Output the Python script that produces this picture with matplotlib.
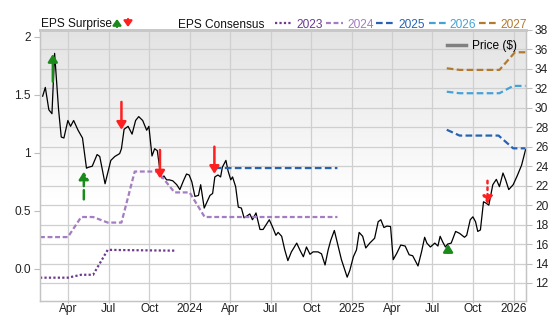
import matplotlib
matplotlib.use('Agg')
import matplotlib.pyplot as plt
import matplotlib.dates as mdates
from matplotlib.lines import Line2D
from matplotlib.ticker import FixedLocator, FixedFormatter, FuncFormatter
import numpy as np
import pandas as pd

plt.rcParams['font.family'] = ['Liberation Sans', 'DejaVu Sans']

# ---------------- data ----------------
price_dates = [
    "2023-02-02", "2023-02-08", "2023-02-16", "2023-02-23", "2023-03-01", "2023-03-10",
    "2023-03-16", "2023-03-22", "2023-03-31", "2023-04-06", "2023-04-13", "2023-04-23",
    "2023-05-03", "2023-05-12", "2023-05-17", "2023-05-25", "2023-06-05", "2023-06-11",
    "2023-06-17", "2023-06-23", "2023-07-06", "2023-07-15", "2023-07-26", "2023-07-30",
    "2023-08-05", "2023-08-14", "2023-08-23", "2023-08-31", "2023-09-07", "2023-09-16",
    "2023-09-25", "2023-09-30", "2023-10-07", "2023-10-13", "2023-10-19", "2023-10-25",
    "2023-10-29", "2023-11-03", "2023-11-09", "2023-11-15", "2023-11-23", "2023-12-02",
    "2023-12-09", "2023-12-17", "2023-12-24", "2023-12-30", "2024-01-05", "2024-01-12",
    "2024-01-20", "2024-01-25", "2024-02-02", "2024-02-09", "2024-02-15", "2024-02-21",
    "2024-02-26", "2024-03-04", "2024-03-10", "2024-03-14", "2024-03-22", "2024-03-27",
    "2024-04-02", "2024-04-06", "2024-04-13", "2024-04-19", "2024-04-26", "2024-05-02",
    "2024-05-09", "2024-05-15", "2024-05-21", "2024-05-29", "2024-06-07", "2024-06-14",
    "2024-06-28", "2024-07-05", "2024-07-13", "2024-07-18", "2024-07-26", "2024-08-02",
    "2024-08-09", "2024-08-17", "2024-08-29", "2024-09-05", "2024-09-13", "2024-09-20",
    "2024-09-28", "2024-10-05", "2024-10-16", "2024-10-24", "2024-11-01", "2024-11-08",
    "2024-11-14", "2024-11-22", "2024-11-29", "2024-12-08", "2024-12-21", "2024-12-27",
    "2025-01-04", "2025-01-11", "2025-01-17", "2025-01-25", "2025-02-01", "2025-02-10",
    "2025-02-21", "2025-03-01", "2025-03-07", "2025-03-14", "2025-03-21", "2025-03-29",
    "2025-04-04", "2025-04-12", "2025-04-21", "2025-05-01", "2025-05-10", "2025-05-18",
    "2025-05-25", "2025-05-30", "2025-06-07", "2025-06-14", "2025-06-19", "2025-06-27",
    "2025-07-07", "2025-07-14", "2025-07-19", "2025-07-25", "2025-07-31", "2025-08-05",
    "2025-08-13", "2025-08-23", "2025-09-01", "2025-09-12", "2025-09-17", "2025-09-25",
    "2025-10-01", "2025-10-07", "2025-10-12", "2025-10-18", "2025-10-25", "2025-10-31",
    "2025-11-06", "2025-11-15", "2025-11-23", "2025-11-30", "2025-12-08", "2025-12-14",
    "2025-12-21", "2025-12-31", "2026-01-09", "2026-01-19", "2026-01-28",
]
price_values = [
    31.2, 32.1, 29.8, 29.4, 35.6, 29.8,
    27.0, 26.9, 28.7, 28.1, 28.7, 27.7,
    26.9, 23.8, 23.9, 24.0, 25.2, 25.0,
    23.6, 22.2, 24.6, 25.0, 25.3, 25.8,
    27.8, 28.1, 27.3, 28.7, 29.1, 28.7,
    27.7, 28.1, 25.05, 25.8, 25.6, 23.6,
    22.8, 23.0, 22.6, 22.6, 22.5, 22.1,
    21.6, 22.5, 23.2, 23.1, 22.4, 20.9,
    21.0, 22.1, 19.7, 20.4, 21.0, 21.2,
    22.9, 23.1, 22.9, 23.9, 24.6, 23.5,
    22.6, 22.9, 21.9, 19.8, 19.7, 18.7,
    18.9, 19.1, 18.5, 19.2, 17.5, 17.5,
    18.5, 17.8, 16.9, 17.2, 16.8, 15.4,
    14.3, 15.2, 16.1, 15.4, 14.7, 15.7,
    14.95, 15.2, 15.2, 15.0, 13.85, 15.4,
    16.4, 17.4, 16.1, 14.4, 12.6, 13.3,
    14.7, 15.4, 17.2, 16.8, 15.6, 16.1,
    16.6, 18.3, 18.5, 17.7, 17.85, 17.8,
    14.4, 15.05, 15.9, 15.8, 14.9, 14.8,
    14.2, 13.75, 15.2, 16.7, 16.1, 15.7,
    16.1, 15.8, 16.8, 16.2, 15.7, 16.0,
    16.1, 17.3, 17.1, 16.7, 16.9, 18.5,
    18.8, 18.3, 17.3, 17.45, 20.35, 20.2,
    20.0, 22.1, 22.65, 21.9, 23.3, 22.6,
    21.6, 22.1, 23.0, 24.1, 25.7,
]

eps_2023_dates = ["2023-01-27", "2023-03-31", "2023-04-30", "2023-05-27", "2023-06-29",
                  "2023-07-30", "2023-11-27"]
eps_2023_values = [-0.075, -0.075, -0.05, -0.05, 0.165, 0.163, 0.158]

eps_2024_dates = ["2023-01-27", "2023-03-31", "2023-04-30", "2023-05-27", "2023-06-29",
                  "2023-07-30", "2023-08-29", "2023-10-20", "2023-11-27", "2023-12-31",
                  "2024-02-03", "2024-11-29"]
eps_2024_values = [0.275, 0.275, 0.448, 0.448, 0.40, 0.40, 0.84, 0.84, 0.66, 0.66,
                   0.448, 0.448]

eps_2025_dates = ["2024-02-26", "2024-11-29", "2025-08-02",
                  "2025-08-03", "2025-09-01", "2025-11-28", "2025-12-31", "2026-01-28"]
eps_2025_values = [0.87, 0.87, np.nan, 1.20, 1.15, 1.15, 1.04, 1.04]

eps_2026_dates = ["2025-08-03", "2025-09-01", "2025-11-30", "2025-12-31", "2026-01-28"]
eps_2026_values = [1.528, 1.515, 1.515, 1.578, 1.578]

eps_2027_dates = ["2025-08-03", "2025-09-01", "2025-11-30", "2026-01-04", "2026-01-28"]
eps_2027_values = [1.73, 1.716, 1.716, 1.868, 1.868]

surprise_dates = ["2023-02-25", "2023-05-06", "2023-07-30", "2023-10-25", "2024-02-25",
                  "2025-08-06", "2025-11-03"]
surprise_estimate = [1.615, 0.60, 1.44, 1.026, 1.054, 0.14, 0.76]
surprise_actual = [1.853, 0.84, 1.20, 0.78, 0.82, 0.215, 0.56]
surprise_linestyle = ['-', '--', '-', '-', '-', '-', ':']

year_labels = ["2023", "2024", "2025", "2026", "2027"]
left_ticks = [0.0, 0.5, 1.0, 1.5, 2.0]
left_tick_labels = ["0.0", "0.5", "1", "1.5", "2"]
right_ticks = list(range(12, 39, 2))

# ---------------- styles ----------------
C2023 = '#6a3a8e'
C2024 = '#a37cc1'
C2025 = '#2763b0'
C2026 = '#45a2d5'
C2027 = '#b07a30'
GREEN = '#1a8a1a'
RED = '#ff1f1f'
GRID = '#cfcfcf'
FS = 8.6

W, H = 556, 315
fig = plt.figure(figsize=(W / 100, H / 100), dpi=100)
ax = fig.add_axes([40 / W, 14 / H, 486 / W, 271 / H])
ax2 = ax.twinx()
ax.set_zorder(2)
ax2.set_zorder(1)
ax.patch.set_visible(False)

xmin = pd.Timestamp("2023-01-27")
xmax = pd.Timestamp("2026-01-29")

# background gradient on the bottom axes
grad = np.ones((256, 1, 3))
t = np.linspace(0, 1, 256)
g = np.clip(0.89 + 0.11 * (t / 0.62), 0, 1)
grad[:, 0, :] = g[:, None]
ax2.imshow(grad, extent=[0, 1, 0, 1], transform=ax2.transAxes, aspect='auto',
           origin='upper', zorder=0, interpolation='bilinear')

# price on right axis
ax2.plot(pd.to_datetime(price_dates), price_values, color='black', lw=0.9, zorder=3)

# EPS consensus lines on left axis
ax.plot(pd.to_datetime(eps_2023_dates), eps_2023_values, color=C2023, lw=1.6,
        dashes=(1.0, 1.0))
ax.plot(pd.to_datetime(eps_2024_dates), eps_2024_values, color=C2024, lw=1.6,
        dashes=(2.2, 1.2))
ax.plot(pd.to_datetime(eps_2025_dates), eps_2025_values, color=C2025, lw=1.6,
        dashes=(3.0, 1.5))
ax.plot(pd.to_datetime(eps_2026_dates), eps_2026_values, color=C2026, lw=1.6,
        dashes=(3.0, 1.5))
ax.plot(pd.to_datetime(eps_2027_dates), eps_2027_values, color=C2027, lw=1.6,
        dashes=(3.0, 1.5))

# EPS surprise arrows
for d, e, a, ls in zip(pd.to_datetime(surprise_dates), surprise_estimate,
                       surprise_actual, surprise_linestyle):
    col = GREEN if a > e else RED
    ax.annotate('', xy=(d, a), xytext=(d, e),
                arrowprops=dict(arrowstyle='-|>,head_length=0.45,head_width=0.28',
                                color=col, lw=1.8, linestyle=ls, shrinkA=0, shrinkB=0,
                                mutation_scale=10), zorder=5)

# axes limits / ticks
ax.set_xlim(xmin, xmax)
ax.set_ylim(-0.276, 2.06)
ax2.set_ylim(10.15, 38)

ax.xaxis.set_major_locator(mdates.MonthLocator(bymonth=[1, 4, 7, 10]))
def fmt(x, pos):
    d = mdates.num2date(x)
    return str(d.year) if d.month == 1 else d.strftime('%b')
ax.xaxis.set_major_formatter(FuncFormatter(fmt))

ax.yaxis.set_major_locator(FixedLocator(left_ticks))
ax.yaxis.set_major_formatter(FixedFormatter(left_tick_labels))
ax2.yaxis.set_major_locator(FixedLocator(right_ticks))

ax.tick_params(axis='x', length=1.2, width=0.8, color='#bdbdbd', pad=0.4,
               labelsize=FS, labelcolor='#222222')
ax.tick_params(axis='y', length=4.5, width=0.8, color='#bdbdbd', pad=2,
               labelsize=FS, labelcolor='#222222')
ax2.tick_params(axis='y', length=4.5, width=0.8, color='#bdbdbd', pad=2,
                labelsize=FS, labelcolor='#222222')

# grids on bottom axes
ax2.xaxis.set_visible(True)
ax2.tick_params(axis='x', bottom=False, labelbottom=False, top=False, labeltop=False)
ax2.grid(True, axis='both', color=GRID, lw=0.9)
ax2.set_axisbelow(True)
ax2.set_xlim(xmin, xmax)

for a_ in (ax, ax2):
    for s in a_.spines.values():
        s.set_color('#c4c4c4')
        s.set_linewidth(0.9)
    a_.spines['top'].set_linewidth(2.0)
    a_.spines['top'].set_color('#c8c8c8')

# legend for price
leg = ax.legend(handles=[Line2D([], [], color='#808080', lw=2.5)], labels=['Price ($)'],
                loc='upper right', bbox_to_anchor=(0.998, 0.995), frameon=False,
                fontsize=FS, handlelength=1.6, handletextpad=0.5, borderpad=0.2)

# header
def fx(px):
    return px / W
def fy(py):
    return 1 - py / H

base = fy(27.5)
fig.text(fx(40.7), base, "EPS Surprise", fontsize=FS, color='#111111', va='baseline')
fig.text(fx(177.7), base, "EPS Consensus", fontsize=FS, color='#111111', va='baseline')

fig.add_artist(matplotlib.patches.FancyArrowPatch(
    (fx(117), fy(27)), (fx(117), fy(19)), transform=fig.transFigure,
    arrowstyle='-|>,head_length=0.35,head_width=0.25', mutation_scale=10,
    color=GREEN, lw=1.6, shrinkA=0, shrinkB=0))
fig.add_artist(matplotlib.patches.FancyArrowPatch(
    (fx(128), fy(19)), (fx(128), fy(27)), transform=fig.transFigure,
    arrowstyle='-|>,head_length=0.35,head_width=0.25', mutation_scale=10,
    color=RED, lw=1.6, shrinkA=0, shrinkB=0))

samples = [
    (275, 291, 296, C2023, (1.0, 1.0)),
    (326, 343, 347, C2024, (2.2, 1.2)),
    (376, 394, 398, C2025, (3.0, 1.5)),
    (429, 446, 449, C2026, (3.0, 1.5)),
    (479, 497, 500, C2027, (3.0, 1.5)),
]
for (x0, x1, xt, col, dsh), lab in zip(samples, year_labels):
    fig.add_artist(Line2D([fx(x0), fx(x1)], [fy(23), fy(23)], transform=fig.transFigure,
                          color=col, lw=1.6, dashes=dsh))
    fig.text(fx(xt), base, lab, fontsize=FS, color=col, va='baseline')

fig.savefig('out.png', dpi=100)
